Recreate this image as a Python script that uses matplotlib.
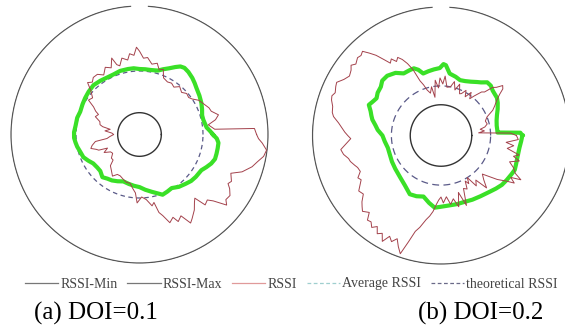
import numpy as np
import matplotlib
matplotlib.use("Agg")
import matplotlib.pyplot as plt
from matplotlib.lines import Line2D

# radii are in the same units for both panels (outer circle = 129.5)
r_outer = 129.5
r_inner = [22, 31]
r_theory = [64, 50]
captions = ["(a) DOI=0.1", "(b) DOI=0.2"]

# green trace, DOI=0.1 (angle in degrees, radius)
green_a_deg = [0, 3, 6, 9, 13, 17, 22, 27, 33, 39, 43, 47, 52, 56, 59, 62, 66, 70, 74, 80,
               85, 90, 95, 100, 107, 113, 119, 126, 133, 140, 146, 152, 159, 165, 172, 178,
               183, 187, 191, 197, 202, 207, 212, 218, 223, 229, 234, 239, 245, 251, 258,
               264, 270, 276, 282, 287, 291, 296, 301, 307, 313, 318, 323, 330, 334, 338,
               342, 346, 350, 354, 357, 360]
green_a_r = [74, 71, 68, 67, 66, 66, 68, 70, 72, 74, 76, 78, 80, 81, 80, 77, 73, 70, 67, 66,
             66, 66, 67, 67, 67, 66, 66, 67, 68, 67, 66, 65, 64, 65, 65, 66,
             66, 65, 64, 62, 61, 58, 55, 54, 54, 57, 55, 54, 52, 50, 51,
             52, 53, 56, 59, 62, 65, 64, 63, 66, 68, 70, 71, 72, 75, 78,
             80, 80, 80, 80, 78, 74]

# red trace, DOI=0.1
red_a_deg = [0, 3, 4, 8, 11, 14, 18, 21, 25, 30, 34, 37, 41, 45, 50, 54, 58, 62, 67, 70,
             73, 76, 80, 84, 87, 90, 92, 94, 97, 99, 103, 106, 108, 110, 113, 117, 121,
             125, 129, 132, 135, 138, 142, 146, 149, 152, 154, 158, 162, 166, 168, 170,
             174, 177, 180, 184, 187, 189, 193, 196, 199, 201, 203, 207, 211, 215, 220,
             224, 227, 232, 237, 241, 245, 250, 255, 259, 263, 266, 268, 272, 276, 280,
             282, 284, 286, 289, 292, 294, 297, 300, 302, 306, 309, 311, 313, 316, 318,
             321, 323, 326, 329, 331, 333, 337, 340, 344, 347, 350, 353, 356, 358, 360]
red_a_r = [118, 116, 76, 70, 78, 82, 76, 75, 72, 69, 64, 62, 63, 60, 63, 59, 61, 60, 62, 70,
           68, 74, 72, 78, 77, 84, 88, 80, 82, 76, 79, 72, 74, 82, 73, 76, 70,
           74, 74, 71, 74, 66, 60, 62, 54, 50, 46, 48, 42, 41, 38, 30,
           35, 28, 26, 30, 33, 45, 49, 51, 46, 44, 35, 40, 34, 33, 37,
           37, 43, 46, 50, 46, 46, 48, 50, 50, 55, 59, 69, 63, 66, 73,
           70, 81, 85, 94, 90, 96, 92, 103, 100, 94, 88, 85, 97, 95, 100,
           113, 109, 110, 106, 102, 104, 100, 110, 118, 122, 127, 129, 124, 120, 118]

# green trace, DOI=0.2
green_b_deg = [0, 2, 3, 5, 10, 15, 20, 25, 30, 34, 41, 45, 49, 53, 56, 61, 66, 71, 76, 82,
               86, 88, 91, 96, 101, 106, 109, 112, 116, 121, 126, 132, 137, 141, 146, 150,
               154, 157, 161, 164, 167, 171, 175, 180, 186, 193, 200, 208, 216, 226, 234,
               242, 248, 254, 260, 265, 269, 276, 283, 290, 296, 303, 311, 316, 321, 326,
               331, 335, 339, 345, 351, 356, 360]
green_b_r = [82, 80, 57, 57, 57, 58, 60, 63, 66, 68, 69, 71, 71, 67, 65, 62, 60, 59, 61, 63,
             71, 72, 68, 67, 66, 65, 70, 73, 73, 73, 78, 81, 81, 78, 77, 75,
             77, 79, 75, 73, 71, 67, 64, 59, 57, 55, 55, 56, 57, 59, 62,
             67, 66, 64, 69, 73, 72, 71, 71, 71, 72, 73, 75, 77, 79, 80,
             81, 82, 81, 80, 80, 81, 82]

# red trace, DOI=0.2
red_b_deg = [0, 2, 4, 6, 9, 11, 14, 18, 22, 26, 29, 32, 35, 37, 39, 41, 43, 45, 47, 50,
             52, 55, 58, 61, 64, 66, 70, 73, 76, 79, 83, 86, 88, 91, 93, 96, 99, 101,
             104, 107, 109, 111, 113, 115, 117, 119, 121, 123, 125, 127, 129, 131, 133,
             135, 137, 140, 142, 144, 147, 150, 153, 155, 158, 160, 162, 165, 168, 170,
             173, 175, 178, 180, 182, 185, 188, 191, 194, 196, 199, 201, 204, 207, 209,
             211, 214, 217, 220, 222, 224, 227, 229, 231, 233, 235, 237, 239, 241, 243,
             245, 247, 249, 251, 253, 255, 257, 260, 262, 264, 266, 268, 270, 272, 275,
             278, 281, 284, 287, 290, 293, 296, 298, 300, 302, 305, 308, 311, 314, 317,
             320, 322, 325, 327, 329, 331, 333, 336, 339, 342, 344, 346, 349, 352, 354,
             357, 360]
red_b_r = [76, 70, 38, 44, 40, 45, 48, 47, 50, 58, 62, 66, 72, 78, 80, 74, 71, 62, 60, 52,
           47, 53, 46, 52, 47, 46, 55, 48, 56, 50, 49, 60, 52, 58, 48, 56, 39, 50,
           44, 48, 54, 59, 72, 80, 86, 90, 87, 92, 89, 96, 104, 110, 116,
           114, 115, 112, 115, 112, 110, 113, 118, 117, 115, 117, 116, 113, 112, 110,
           104, 101, 97, 94, 91, 96, 102, 100, 96, 95, 92, 90, 89, 94, 92,
           95, 100, 98, 104, 107, 110, 106, 113, 112, 116, 112, 118, 115, 122, 114,
           118, 113, 120, 126, 112, 100, 95, 86, 82, 77, 70, 65, 62, 68, 62,
           70, 65, 74, 60, 75, 58, 60, 52, 56, 50, 62, 57, 70, 62, 57,
           65, 72, 80, 88, 82, 92, 84, 80, 74, 83, 76, 81, 68, 74, 66,
           78, 76]

greens = [(green_a_deg, green_a_r), (green_b_deg, green_b_r)]
reds = [(red_a_deg, red_a_r), (red_b_deg, red_b_r)]
dash_styles = [(3.6, 2.8), (5.5, 3.5)]

fig = plt.figure(figsize=(5.65, 3.30), dpi=100)
boxes = [[10 / 565, 1 - 264 / 330, 259 / 565, 259 / 330],
         [311.5 / 565, 1 - 265 / 330, 259 / 565, 259 / 330]]

full = np.linspace(0, 2 * np.pi, 400)
gapped = np.radians(np.linspace(94, 446, 400))

for i in range(2):
    ax = fig.add_axes(boxes[i], projection="polar")
    ax.set_ylim(0, r_outer + 1)
    ax.axis("off")

    # RSSI-Max / RSSI-Min circles
    ax.plot(gapped, np.full_like(gapped, r_outer), color="#555555", lw=0.9)
    ax.plot(full, np.full_like(full, r_inner[i]), color="#333333", lw=1.0)

    # theoretical RSSI
    ax.plot(full, np.full_like(full, r_theory[i]), color="#5a5a88", lw=0.9,
            dashes=dash_styles[i])

    gd, gr = greens[i]
    ax.plot(np.radians(gd), gr, color="#3ae027", lw=3.0, solid_joinstyle="round")

    rd, rr = reds[i]
    ax.plot(np.radians(rd), rr, color="#a3414b", lw=0.7)

handles = [
    Line2D([], [], color="#777777", lw=0.9),
    Line2D([], [], color="#777777", lw=0.9),
    Line2D([], [], color="#e09a9a", lw=0.9),
    Line2D([], [], color="#9fcfcf", lw=0.9, dashes=(3, 2)),
    Line2D([], [], color="#6a6a88", lw=0.9, dashes=(3, 2)),
]
labels = ["RSSI-Min", "RSSI-Max", "RSSI", "Average RSSI", "theoretical RSSI"]
fig.legend(handles, labels, ncol=5, loc="center left",
           bbox_to_anchor=(25 / 565, 1 - 284 / 330), frameon=False,
           prop={"family": "Liberation Serif", "size": 10},
           labelcolor="#444444", handlelength=2.4, handletextpad=0.15,
           columnspacing=0.7, borderpad=0, borderaxespad=0)

fig.text(34 / 565, 1 - 313 / 330, captions[0], fontsize=18,
         family="Liberation Serif", va="center", ha="left")
fig.text(418 / 565, 1 - 313 / 330, captions[1], fontsize=18,
         family="Liberation Serif", va="center", ha="left")

fig.savefig("out.png", dpi=100)
